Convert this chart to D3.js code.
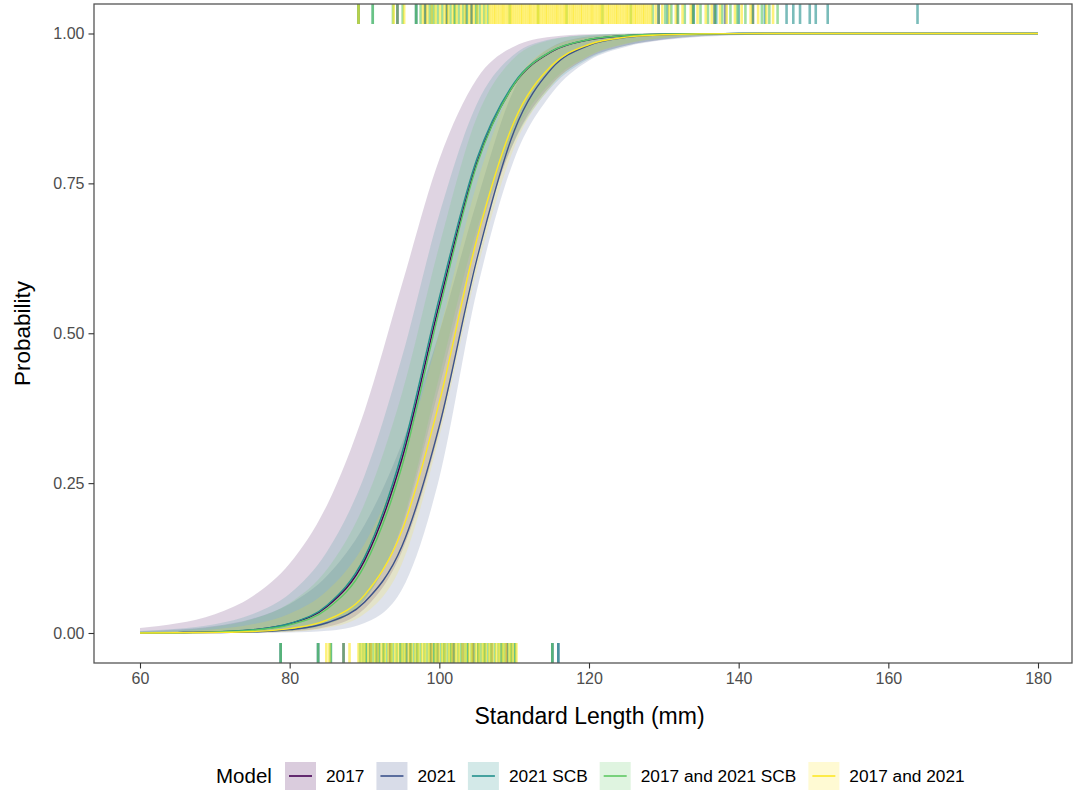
<!DOCTYPE html>
<html>
<head>
<meta charset="utf-8">
<script src="https://cdn.jsdelivr.net/npm/d3@7"></script>
<style>
  body { margin: 0; background: #fff; }
  svg { display: block; }
  text { font-family: "Liberation Sans", Arial, Helvetica, sans-serif; }
</style>
</head>
<body>
<svg id="chart" width="1073" height="792"></svg>
<script>
// Standard length grid (mm) at which the fitted maturity curves are tabulated
const lengthGrid = [60, 65, 70, 75, 80, 85, 90, 95, 100, 105, 110, 115, 120, 125, 130, 140, 150, 160, 170, 180];

// Model names and colours
const models = ["2017", "2021", "2021 SCB", "2017 and 2021 SCB", "2017 and 2021"];
const modelColors = ["#440154", "#3B528B", "#21908C", "#5DC863", "#FDE725"];

// Fitted probability of maturity and 95% band, per model
const fit2017 = [0.0002, 0.0007, 0.0019, 0.0052, 0.0154, 0.0442, 0.1208, 0.2902, 0.5491, 0.7837, 0.9150, 0.9697, 0.9895, 0.9965, 0.9988, 0.9999, 1, 1, 1, 1];
const lo2017  = [0.0000, 0.0000, 0.0001, 0.0006, 0.0025, 0.0103, 0.0405, 0.1359, 0.3376, 0.6300, 0.8200, 0.9150, 0.9600, 0.9800, 0.9900, 0.9980, 0.9995, 0.9999, 1, 1];
const hi2017  = [0.0083, 0.0161, 0.0314, 0.0609, 0.1159, 0.2137, 0.3705, 0.5813, 0.7902, 0.9243, 0.9785, 0.9946, 0.9987, 0.9997, 0.9999, 1, 1, 1, 1, 1];

const fit2021 = [0.0001, 0.0002, 0.0006, 0.0018, 0.0056, 0.0171, 0.0514, 0.1446, 0.3456, 0.6229, 0.8375, 0.9414, 0.9804, 0.9937, 0.9980, 0.9998, 1, 1, 1, 1];
const lo2021  = [0.0000, 0.0000, 0.0000, 0.0002, 0.0008, 0.0036, 0.0167, 0.0726, 0.2590, 0.5705, 0.7900, 0.9000, 0.9550, 0.9780, 0.9890, 0.9972, 0.9993, 0.9998, 1, 1];
const hi2021  = [0.0028, 0.0057, 0.0117, 0.0239, 0.0483, 0.0953, 0.1802, 0.3163, 0.5013, 0.7199, 0.9070, 0.9775, 0.9950, 0.9989, 0.9998, 1, 1, 1, 1, 1];

const fit2021SCB = [0.0002, 0.0006, 0.0018, 0.0054, 0.0158, 0.0464, 0.1262, 0.2999, 0.5595, 0.7902, 0.9178, 0.9707, 0.9899, 0.9966, 0.9988, 0.9999, 1, 1, 1, 1];
const lo2021SCB  = [0.0000, 0.0001, 0.0002, 0.0009, 0.0037, 0.0149, 0.0555, 0.1773, 0.4107, 0.6545, 0.8195, 0.9112, 0.9576, 0.9800, 0.9906, 0.9979, 0.9995, 0.9999, 1, 1];
const hi2021SCB  = [0.0032, 0.0069, 0.0147, 0.0312, 0.0654, 0.1359, 0.2622, 0.4598, 0.6983, 0.8821, 0.9649, 0.9907, 0.9977, 0.9996, 0.9999, 1, 1, 1, 1, 1];

const fitBothSCB = [0.0002, 0.0005, 0.0015, 0.0045, 0.0135, 0.0400, 0.1124, 0.2777, 0.5389, 0.7802, 0.9152, 0.9704, 0.9900, 0.9967, 0.9989, 0.9999, 1, 1, 1, 1];
const loBothSCB  = [0.0000, 0.0001, 0.0002, 0.0009, 0.0036, 0.0144, 0.0551, 0.1818, 0.4278, 0.6724, 0.8324, 0.9198, 0.9629, 0.9832, 0.9924, 0.9985, 0.9997, 0.9999, 1, 1];
const hiBothSCB  = [0.0021, 0.0047, 0.0103, 0.0228, 0.0499, 0.1063, 0.2155, 0.3994, 0.6463, 0.8600, 0.9590, 0.9894, 0.9974, 0.9995, 0.9999, 1, 1, 1, 1, 1];

const fitBoth = [0.0001, 0.0003, 0.0009, 0.0024, 0.0073, 0.0218, 0.0632, 0.1705, 0.3850, 0.6564, 0.8532, 0.9465, 0.9817, 0.9940, 0.9980, 0.9998, 1, 1, 1, 1];
const loBoth  = [0.0000, 0.0000, 0.0001, 0.0005, 0.0020, 0.0082, 0.0320, 0.1155, 0.3276, 0.6030, 0.8100, 0.9130, 0.9620, 0.9830, 0.9925, 0.9985, 0.9997, 0.9999, 1, 1];
const hiBoth  = [0.0013, 0.0028, 0.0064, 0.0144, 0.0322, 0.0705, 0.1486, 0.2895, 0.5018, 0.7491, 0.9159, 0.9771, 0.9942, 0.9989, 0.9998, 1, 1, 1, 1, 1];

// Observed lengths (mm) of mature fish (rug along the top)
const matureRug2017 = [94.4, 98.1, 101.0, 104.3, 129.3, 133.9, 136.8, 141.9];
const matureRug2021 = [89.2, 96.9, 103.6, 131.8, 138.2];
const matureRug2021SCB = [89.2, 91.1, 96.9, 99.0, 102.0, 105.0, 130.5, 134.0, 137.0, 140.0, 143.5, 146.4, 147.3, 148.2, 149.5, 150.3, 151.9, 163.9];
const matureRugBothSCB = [89.2, 91.1, 93.8, 94.4, 95.1, 96.9, 97.5, 98.1, 98.7, 99.3, 99.8, 100.4, 101.0, 101.5, 102.1, 102.6, 103.2, 103.7, 104.3, 104.9, 105.4, 106.0, 106.5, 109.4, 113.2, 117.0, 121.8, 125.6, 128.5, 129.3, 130.2, 131.0, 131.9, 132.8, 133.9, 134.9, 135.9, 136.8, 137.8, 138.9, 139.8, 140.9, 141.9, 143.1, 144.1, 145.2];
const matureRugBoth = [89.2, 93.9, 95.3, 97.8, 98.4, 99.0, 99.5, 100.1, 100.7, 101.2, 101.8, 102.3, 102.9, 103.4, 104.0, 104.6, 105.1, 105.7, 106.2, 106.7,
  107.0, 107.3, 107.5, 107.8, 108.1, 108.4, 108.6, 108.9, 109.2, 109.5, 109.7, 110.0, 110.3, 110.6, 110.9, 111.1, 111.4, 111.7, 112.0, 112.2, 112.5, 112.8,
  113.1, 113.3, 113.6, 113.9, 114.2, 114.4, 114.7, 115.0, 115.3, 115.6, 115.8, 116.1, 116.4, 116.7, 116.9, 117.2, 117.5, 117.8, 118.0, 118.3, 118.6, 118.9,
  119.1, 119.4, 119.7, 120.0, 120.3, 120.5, 120.8, 121.1, 121.4, 121.6, 121.9, 122.2, 122.5, 122.7, 123.0, 123.3, 123.6, 123.8, 124.1, 124.4, 124.7, 125.0,
  125.2, 125.5, 125.8, 126.1, 126.3, 126.6, 126.9, 127.2, 127.4, 127.7, 128.0, 128.3,
  128.9, 129.8, 130.7, 131.6, 132.5, 133.6, 134.5, 135.6, 136.4, 137.5, 138.4, 139.5, 140.4, 141.6, 142.6, 143.7, 144.6];

// Observed lengths (mm) of immature fish (rug along the bottom)
const immatureRug2017 = [87.2, 90.8, 93.4, 96.1, 98.9, 101.9, 104.5, 109.0];
const immatureRug2021 = [78.8, 83.8, 91.6, 95.6, 99.8, 103.1, 107.0, 115.1, 115.9];
const immatureRug2021SCB = [78.8, 83.8, 85.5, 90.2, 91.9, 92.5, 94.8, 96.2, 97.0, 99.3, 100.7, 101.6, 103.8, 105.2, 106.1, 108.3, 109.6, 110.1, 115.1, 115.9];
const immatureRugBothSCB = [78.8, 83.8, 85.5, 87.2, 89.4, 89.8, 90.2, 90.7, 91.1, 91.5, 92.0, 92.6, 93.0, 93.5, 93.8, 94.3, 94.8, 95.2, 95.6, 96.1, 96.6, 97.1, 97.5, 98.0, 98.4, 98.8,
  99.3, 99.7, 100.2, 100.6, 101.1, 101.5, 102.0, 102.5, 102.9, 103.4, 103.8, 104.3, 104.7, 105.2, 105.6, 106.0, 106.5, 106.9, 107.4, 107.9, 108.3, 108.7, 109.2, 109.6, 110.1, 115.1];
const immatureRugBoth = [84.9, 85.3, 88.0, 89.2, 89.6, 90.0, 90.5, 90.9, 91.4, 91.8, 92.3, 92.7, 93.2, 93.6, 94.1, 94.5, 95.0, 95.4, 95.9, 96.3, 96.8, 97.2, 97.7, 98.1, 98.6,
  99.0, 99.5, 99.9, 100.4, 100.8, 101.3, 101.7, 102.2, 102.6, 103.1, 103.5, 104.0, 104.4, 104.9, 105.3, 105.8, 106.2, 106.7, 107.1, 107.6, 108.0, 108.5, 108.9, 109.4, 109.8, 110.3];

// Axis ticks
const xTicks = [60, 80, 100, 120, 140, 160, 180];
const yTicks = [0, 0.25, 0.5, 0.75, 1];

const fits = [fit2017, fit2021, fit2021SCB, fitBothSCB, fitBoth];
const lows = [lo2017, lo2021, lo2021SCB, loBothSCB, loBoth];
const highs = [hi2017, hi2021, hi2021SCB, hiBothSCB, hiBoth];
const topRugs = [matureRug2017, matureRug2021, matureRug2021SCB, matureRugBothSCB, matureRugBoth];
const bottomRugs = [immatureRug2017, immatureRug2021, immatureRug2021SCB, immatureRugBothSCB, immatureRugBoth];

const series = models.map((name, i) => ({
  name,
  color: modelColors[i],
  points: lengthGrid.map((sl, j) => ({ sl, fit: fits[i][j], lo: lows[i][j], hi: highs[i][j] })),
  top: topRugs[i],
  bottom: bottomRugs[i]
}));

// Layout
const panel = { left: 94, top: 4, right: 1072, bottom: 663 };
const svg = d3.select("#chart");

const x = d3.scaleLinear().domain([60, 180]).range([140, 1038]);
const y = d3.scaleLinear().domain([0, 1]).range([633, 33.5]);

svg.append("defs").append("clipPath").attr("id", "panel-clip")
  .append("rect")
  .attr("x", panel.left).attr("y", panel.top)
  .attr("width", panel.right - panel.left).attr("height", panel.bottom - panel.top);

const plot = svg.append("g").attr("clip-path", "url(#panel-clip)");

// Confidence ribbons
const area = d3.area()
  .x(d => x(d.sl))
  .y0(d => y(d.lo))
  .y1(d => y(d.hi))
  .curve(d3.curveMonotoneX);

plot.selectAll("path.ribbon")
  .data(series)
  .join("path")
  .attr("class", "ribbon")
  .attr("d", d => area(d.points))
  .attr("fill", d => d.color)
  .attr("fill-opacity", 0.17)
  .attr("stroke", "none");

// Fitted curves
const line = d3.line()
  .x(d => x(d.sl))
  .y(d => y(d.fit))
  .curve(d3.curveMonotoneX);

plot.selectAll("path.fit")
  .data(series)
  .join("path")
  .attr("class", "fit")
  .attr("d", d => line(d.points))
  .attr("fill", "none")
  .attr("stroke", d => d.color)
  .attr("stroke-width", 1.4);

// Rugs of observed lengths
const rugLen = 20;
series.forEach(s => {
  const g = plot.append("g").attr("stroke", s.color).attr("stroke-opacity", 0.6).attr("stroke-width", 2.6);
  g.selectAll("line.top").data(s.top).join("line")
    .attr("class", "top")
    .attr("x1", d => x(d)).attr("x2", d => x(d))
    .attr("y1", panel.top).attr("y2", panel.top + rugLen);
  g.selectAll("line.bottom").data(s.bottom).join("line")
    .attr("class", "bottom")
    .attr("x1", d => x(d)).attr("x2", d => x(d))
    .attr("y1", panel.bottom - rugLen).attr("y2", panel.bottom);
});

// Panel border
svg.append("rect")
  .attr("x", panel.left).attr("y", panel.top)
  .attr("width", panel.right - panel.left).attr("height", panel.bottom - panel.top)
  .attr("fill", "none").attr("stroke", "#555").attr("stroke-width", 1.3);

// Axes
const xAxis = svg.append("g")
  .attr("transform", `translate(0,${panel.bottom})`)
  .call(d3.axisBottom(x).tickValues(xTicks).tickSize(5.5).tickPadding(4).tickFormat(d3.format("d")));
const yAxis = svg.append("g")
  .attr("transform", `translate(${panel.left},0)`)
  .call(d3.axisLeft(y).tickValues(yTicks).tickSize(5.5).tickPadding(4).tickFormat(d3.format(".2f")));

[xAxis, yAxis].forEach(a => {
  a.select(".domain").remove();
  a.selectAll(".tick line").attr("stroke", "#333").attr("stroke-width", 1.1);
  a.selectAll(".tick text")
    .attr("fill", "#4d4d4d")
    .attr("font-size", 16)
    .attr("font-family", "Liberation Sans, Arial, sans-serif");
});

// Axis titles
svg.append("text")
  .attr("x", (x(60) + x(180)) / 2 + 0.5)
  .attr("y", 724)
  .attr("text-anchor", "middle")
  .attr("font-size", 23)
  .attr("fill", "#000")
  .text("Standard Length (mm)");

svg.append("text")
  .attr("transform", `translate(30,${(panel.top + panel.bottom) / 2}) rotate(-90)`)
  .attr("text-anchor", "middle")
  .attr("font-size", 22.5)
  .attr("fill", "#000")
  .text("Probability");

// Legend
const legend = svg.append("g");
const legendY = 776;
legend.append("text")
  .attr("x", 216).attr("y", legendY + 7)
  .attr("font-size", 20.5)
  .attr("fill", "#000")
  .text("Model");

const keyW = 31, keyH = 28;
let cursor = 285;
series.forEach(s => {
  const key = legend.append("g");
  key.append("rect")
    .attr("x", cursor).attr("y", legendY - keyH / 2)
    .attr("width", keyW).attr("height", keyH)
    .attr("fill", s.color).attr("fill-opacity", 0.2);
  key.append("line")
    .attr("x1", cursor + 4).attr("x2", cursor + keyW - 4)
    .attr("y1", legendY).attr("y2", legendY)
    .attr("stroke", s.color).attr("stroke-width", 1.6);
  const label = key.append("text")
    .attr("x", cursor + keyW + 10).attr("y", legendY + 6)
    .attr("font-size", 17.3)
    .attr("fill", "#000")
    .text(s.name);
  cursor += keyW + 10 + label.node().getComputedTextLength() + 12;
});
</script>
</body>
</html>
